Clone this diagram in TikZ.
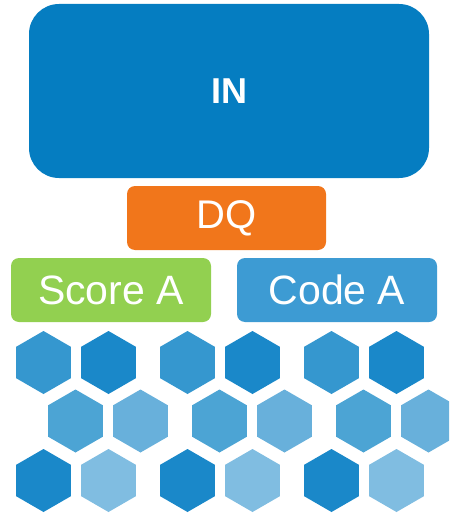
\documentclass[tikz,border=0pt]{standalone}
\usepackage{fontspec}
\setmainfont{Liberation Sans}
\usepackage{tikz}
\usetikzlibrary{shapes.geometric}
\definecolor{inblue}{HTML}{057DC1}
\definecolor{dqorange}{HTML}{F1761B}
\definecolor{scoregreen}{HTML}{92D050}
\definecolor{codeblue}{HTML}{3D9BD3}
\definecolor{hexa}{HTML}{3597CF}
\definecolor{hexb}{HTML}{1A88C9}
\definecolor{hexc}{HTML}{4CA4D4}
\definecolor{hexd}{HTML}{68B0DB}
\definecolor{hexe}{HTML}{80BDE1}
\tikzset{
  box/.style={rounded corners=8pt,inner sep=0pt,text=white,minimum height=64pt},
  hex/.style={regular polygon,regular polygon sides=6,shape border rotate=30,
    minimum size=63pt,inner sep=0pt,outer sep=0pt}
}
\begin{document}
\begin{tikzpicture}[x=1pt,y=-1pt]
\useasboundingbox (0,0) rectangle (449,513);
\clip (0,0) rectangle (449,513);
\node[box,fill=inblue,rounded corners=30pt,minimum width=400pt,minimum height=174pt,
  font=\fontsize{36}{36}\selectfont\bfseries] (in) at (229,91) {IN};
\node[box,fill=dqorange,minimum width=199pt,font=\fontsize{40}{40}\selectfont] (dq) at (226.5,218) {DQ};
\node[box,fill=scoregreen,minimum width=200pt,font=\fontsize{41}{41}\selectfont] (score) at (111,290) {Score A};
\node[box,fill=codeblue,minimum width=200pt,font=\fontsize{41}{41}\selectfont] (code) at (337,290) {Code A};
\foreach \x [count=\i] in {43.5,187.5,331.5} {
  \node[hex,fill=hexa] (hex-1-\i a) at (\x,362.5) {};
  \node[hex,fill=hexb] (hex-1-\i b) at (\x+65,362.5) {};
  \node[hex,fill=hexc] (hex-2-\i a) at (\x+32,421) {};
  \node[hex,fill=hexd] (hex-2-\i b) at (\x+97,421) {};
  \node[hex,fill=hexb] (hex-3-\i a) at (\x,480.5) {};
  \node[hex,fill=hexe] (hex-3-\i b) at (\x+65,480.5) {};
}
\end{tikzpicture}
\end{document}
